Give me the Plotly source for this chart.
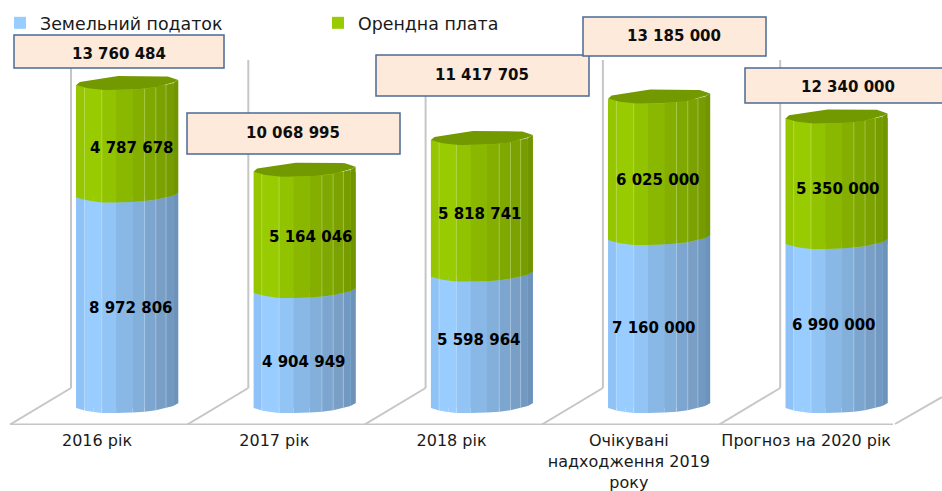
import numpy as np
import plotly.graph_objects as go

# ---- data ----
categories = ["2016 рік", "2017 рік", "2018 рік", "Очікувані<br>надходження 2019<br>року", "Прогноз на 2020 рік"]
land_tax = [8972806, 4904949, 5598964, 7160000, 6990000]
rent = [4787678, 5164046, 5818741, 6025000, 5350000]
totals = [13760484, 10068995, 11417705, 13185000, 12340000]
series_names = ["Земельний податок", "Орендна плата"]

# ---- styling / layout ----
W, H = 942, 491
FLOOR_PX = 425
BASE_PX = 408
STEP = 177.3
TICK0 = 97
S = 23.47e-6            # pixels per unit
FONT = "DejaVu Sans"

def xd(px):
    return (px - TICK0) / STEP

def yd(px):
    return (BASE_PX - px) / S

OFF = 30.3 / STEP
BW = 102 / STEP
T = [0, .08, .17, .25, .39, .55, .67, .78, .88, .95, 1]
GREENS = ["#95c600", "#99cc00", "#99cc00", "#92c300", "#8ab800", "#84ae00", "#7fa800", "#7ba200", "#769c00", "#709500"]
BLUES = ["#8fc3f7", "#99ccff", "#99ccff", "#92c4f5", "#8ab8e6", "#83afdb", "#7ca5cf", "#7a9fc6", "#7199c1", "#6d93b9"]
CAP = "#739900"
SEPS = [.08, .25, .67, .78, .88]

def front(t):
    return np.interp(t, [0, .03, .1, .25, .5, .75, .95, 1], [0, 1, 3, 5, 5, 3, -2, -5])

def back(t):
    return np.interp(t, [0, .03, .1, .45, .9, 1], [0, -3, -4.5, -9.5, -8.5, -5])

def strip(i, lo, hi, t0, t1):
    ts = np.linspace(t0, t1, 6)
    xs = i + OFF - BW / 2 + ts * BW
    lower = lo - front(ts) / S
    upper = hi - front(ts) / S
    return list(xs) + list(xs[::-1]) + [None], list(lower) + list(upper[::-1]) + [None]

fig = go.Figure()
x_pos = [i + OFF for i in range(len(categories))]
fig.add_trace(go.Bar(x=x_pos, y=land_tax, width=BW, name=series_names[0], marker=dict(color="#99ccff", line=dict(width=0))))
fig.add_trace(go.Bar(x=x_pos, y=rent, width=BW, name=series_names[1], marker=dict(color="#99cc00", line=dict(width=0))))

# white mask: the round base of each cylinder lifts above the flat bar foot on the right
X, Y = [], []
ts = np.linspace(.8, 1.01, 12)
for i in range(5):
    xs = i + OFF - BW / 2 + ts * BW
    X += list(xs) + [xs[-1], xs[0], None]
    Y += list(-front(np.minimum(ts, 1)) / S) + [yd(BASE_PX + 2), yd(BASE_PX + 2), None]
fig.add_trace(go.Scatter(x=X, y=Y, mode="lines", fill="toself", fillcolor="white", line=dict(width=0, color="white"),
                         showlegend=False, hoverinfo="skip"))

for k, (colors, lows, highs) in enumerate([
    (BLUES, [0] * 5, land_tax),
    (GREENS, land_tax, totals),
]):
    for s, col in enumerate(colors):
        X, Y = [], []
        for i in range(5):
            a, b = strip(i, lows[i], highs[i], T[s], T[s + 1])
            X += a
            Y += b
        fig.add_trace(go.Scatter(x=X, y=Y, mode="lines", fill="toself", fillcolor=col,
                                 line=dict(width=0, color=col), showlegend=False, hoverinfo="skip"))

# light seams between facets
X, Y = [], []
for i in range(5):
    for t in SEPS:
        px = i + OFF - BW / 2 + t * BW
        d = float(front(t)) / S
        X += [px, px, None]
        Y += [0 - d, totals[i] - d, None]
fig.add_trace(go.Scatter(x=X, y=Y, mode="lines", line=dict(width=1, color="rgba(255,255,255,0.28)"),
                         showlegend=False, hoverinfo="skip"))

# top caps
X, Y = [], []
ts = np.linspace(0, 1, 30)
for i in range(5):
    xs = i + OFF - BW / 2 + ts * BW
    X += list(xs) + list(xs[::-1]) + [None]
    Y += list(totals[i] - front(ts) / S) + list((totals[i] - back(ts) / S)[::-1]) + [None]
fig.add_trace(go.Scatter(x=X, y=Y, mode="lines", fill="toself", fillcolor=CAP, line=dict(width=0, color=CAP),
                         showlegend=False, hoverinfo="skip"))

# 3D walls and floor
shapes = []
GRID = dict(color="#c6c6c6", width=2)
for i in range(5):
    wx = 71 + STEP * i
    shapes.append(dict(type="line", xref="x", yref="y", x0=xd(wx), x1=xd(wx), y0=yd(388), y1=yd(60), line=GRID, layer="below"))
    shapes.append(dict(type="line", xref="x", yref="y", x0=xd(wx), x1=xd(wx - 61), y0=yd(388), y1=yd(424.5), line=GRID, layer="below"))
shapes.append(dict(type="line", xref="x", yref="y", x0=xd(10), x1=xd(893), y0=yd(424.5), y1=yd(424.5), line=GRID, layer="below"))
shapes.append(dict(type="line", xref="x", yref="y", x0=xd(895), x1=xd(942), y0=yd(424), y1=yd(397), line=GRID, layer="below"))

# labels
def fmt(v):
    return f"{v:,}".replace(",", " ")

annotations = []
blue_shift = [-5, -12, 2, -4, 1]
green_shift = [-7, -5, -6, -11, -8]
xshift_blue = [4, -1, -3, -5, -3]
xshift_green = [5, 6, -2, -1, 1]
for i in range(5):
    annotations.append(dict(x=i + OFF, y=land_tax[i] / 2, text=fmt(land_tax[i]), showarrow=False,
                            xshift=xshift_blue[i], yshift=blue_shift[i], font=dict(family=FONT, size=15, color="#000000", weight="bold")))
    annotations.append(dict(x=i + OFF, y=land_tax[i] + rent[i] / 2, text=fmt(rent[i]), showarrow=False,
                            xshift=xshift_green[i], yshift=green_shift[i], font=dict(family=FONT, size=15, color="#000000", weight="bold")))

BOXES = [(14, 224, 35, 68), (187, 400, 113, 154), (376, 589, 55, 96), (583, 766, 17, 56), (745, 946, 68, 103)]
TEXT_CENTRES = [(119, 54), (293, 133), (482, 75), (674, 36), (848, 87)]
for v, (l, r, t, b), (cx, cy) in zip(totals, BOXES, TEXT_CENTRES):
    shapes.append(dict(type="rect", xref="x", yref="y", x0=xd(l), x1=xd(r), y0=yd(b), y1=yd(t),
                       fillcolor="#fdeada", line=dict(color="#4a6b96", width=1.5), layer="above"))
    annotations.append(dict(x=xd(cx), y=yd(cy), text=fmt(v), showarrow=False,
                            font=dict(family=FONT, size=15, color="#0d0d0d", weight="bold")))

tick_text = ["<br>".join(f'<span style="font-size:16px">{part}</span>' for part in c.split("<br>")) for c in categories]

fig.update_layout(
    width=W, height=H, margin=dict(l=0, r=0, t=0, b=H - FLOOR_PX, pad=0),
    paper_bgcolor="white", plot_bgcolor="white", barmode="stack",
    font=dict(family=FONT),
    shapes=shapes, annotations=annotations,
    showlegend=True,
    legend=dict(orientation="h", x=0, y=1 - 5 / FLOOR_PX, xanchor="left", yanchor="top",
                entrywidth=273, entrywidthmode="pixels", bgcolor="rgba(0,0,0,0)",
                font=dict(family=FONT, size=17.4, color="#1a1a1a"), traceorder="normal"),
    xaxis=dict(range=[xd(0), xd(W)], tickmode="array", tickvals=list(range(5)), ticktext=tick_text,
               showgrid=False, zeroline=False, showline=False, ticks="outside", ticklen=0, tickcolor="rgba(0,0,0,0)", tickangle=0,
               automargin=False,
               tickfont=dict(family=FONT, size=16.4, color="#1a1a1a"), fixedrange=True),
    yaxis=dict(range=[yd(FLOOR_PX), yd(0)], visible=False, showgrid=False, zeroline=False, fixedrange=True),
)

fig.write_html("out.html", config=dict(displayModeBar=False),
               post_script="document.body.style.margin='0';document.documentElement.style.overflow='hidden';")
